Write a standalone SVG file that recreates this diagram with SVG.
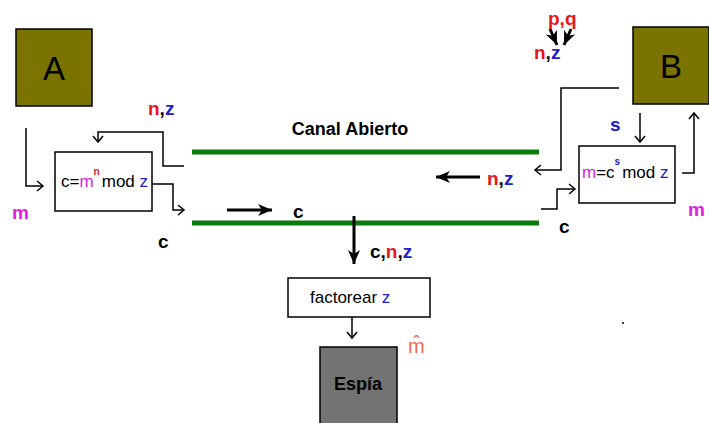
<svg xmlns="http://www.w3.org/2000/svg" width="709" height="423" viewBox="0 0 709 423">
<style>
text{font-family:"Liberation Sans",Arial,sans-serif}
.lbl{font-weight:bold;font-size:19px}
.r{fill:#e8141c}.b{fill:#2020c8}.k{fill:#000}.mg{fill:#e020e0}
.box{fill:#fff;stroke:#000;stroke-width:1.5}
.ln{fill:none;stroke:#000;stroke-width:1.5}
.th{fill:none;stroke:#000;stroke-width:3}
.ch{stroke:#0a7a0a;stroke-width:5}
.bt{font-size:17px}
.sup{font-size:10px;font-weight:bold}
</style>
<defs>
<marker id="o" markerUnits="userSpaceOnUse" markerWidth="12" markerHeight="12" refX="9" refY="6" orient="auto">
<path d="M3,1 L9,6 L3,11" fill="none" stroke="#000" stroke-width="1.5"/>
</marker>
<marker id="f" markerUnits="userSpaceOnUse" markerWidth="16" markerHeight="14" refX="14" refY="7" orient="auto">
<path d="M0,1 L14,7 L0,13 L4,7 Z" fill="#000"/>
</marker>
</defs>
<g id="A"><rect x="16" y="29" width="76" height="77" fill="#7a7300" stroke="#000" stroke-width="1.5"/><text x="54" y="80" text-anchor="middle" font-size="33">A</text></g>
<g id="B"><rect x="633" y="27" width="76" height="77" fill="#7a7300" stroke="#000" stroke-width="1.5"/><text x="671" y="78" text-anchor="middle" font-size="33">B</text></g>
<g id="enc"><rect class="box" x="55" y="152" width="97" height="59"/><text class="bt" x="61" y="187"><tspan>c=</tspan><tspan class="mg">m</tspan><tspan class="sup r" dy="-12">n</tspan><tspan dy="12" dx="2">mod </tspan><tspan class="b">z</tspan></text></g>
<g id="dec"><rect class="box" x="579" y="146" width="96" height="57"/><text class="bt" x="582" y="178"><tspan class="mg">m</tspan><tspan>=c</tspan><tspan class="sup b" dx="0" dy="-13">s</tspan><tspan dy="13" dx="2">mod </tspan><tspan class="b">z</tspan></text></g>
<g id="fact"><rect class="box" x="288" y="278" width="142" height="39"/><text class="bt" x="310" y="303">factorear <tspan class="b">z</tspan></text></g>
<g id="espia"><rect x="320" y="347" width="77" height="78" fill="#737373" stroke="#000" stroke-width="1.5"/><text x="358" y="390" text-anchor="middle" font-size="18" font-weight="bold">Espía</text></g>
<g id="canal"><line class="ch" x1="192" y1="152" x2="539" y2="152"/><line class="ch" x1="192" y1="223" x2="539" y2="223"/><text x="350" y="135" text-anchor="middle" font-size="18" font-weight="bold">Canal Abierto</text></g>
<g id="connectors">
<path class="ln" d="M26,128 V186 H43" marker-end="url(#o)"/>
<path class="ln" d="M184,166 H163 V132 H98 V142" marker-end="url(#o)"/>
<path class="ln" d="M152,184 H173 V210 H184" marker-end="url(#o)"/>
<path class="th" d="M227,210 H272" marker-end="url(#f)"/>
<path class="th" d="M480,177 H436" marker-end="url(#f)"/>
<path class="th" d="M354,216 V264" marker-end="url(#f)"/>
<path class="ln" d="M352,317 V338" marker-end="url(#o)"/>
<path class="ln" d="M619,88 H561 V170 H535" marker-end="url(#o)"/>
<path class="ln" d="M640,113 V142" marker-end="url(#o)"/>
<path class="ln" d="M682,173 H694 V113" marker-end="url(#o)"/>
<path class="ln" d="M541,209 H557 V189 H575" marker-end="url(#o)"/>
<path class="th" d="M550,29 L557,45" stroke-width="2.5" marker-end="url(#f)"/>
<path class="th" d="M571,29 L564,45" stroke-width="2.5" marker-end="url(#f)"/>
</g>
<g id="labels">
<text class="lbl" x="148" y="115"><tspan class="r">n</tspan>,<tspan class="b">z</tspan></text>
<text class="lbl mg" x="12" y="219">m</text>
<text class="lbl" x="158" y="248">c</text>
<text class="lbl" x="293" y="218">c</text>
<text class="lbl" x="487" y="185"><tspan class="r">n</tspan>,<tspan class="b">z</tspan></text>
<text class="lbl" x="370" y="258">c,<tspan class="r">n</tspan>,<tspan class="b">z</tspan></text>
<text class="lbl r" x="548" y="25">p,q</text>
<text class="lbl" x="534" y="59"><tspan class="r">n</tspan>,<tspan class="b">z</tspan></text>
<text class="lbl b" x="610" y="131">s</text>
<text class="lbl mg" x="688" y="216">m</text>
<text class="lbl" x="559" y="233">c</text>
<text x="408" y="353" font-size="20" fill="#f06a50">m̂</text>
<circle cx="623" cy="323" r="1" fill="#000"/>
</g>
</svg>
